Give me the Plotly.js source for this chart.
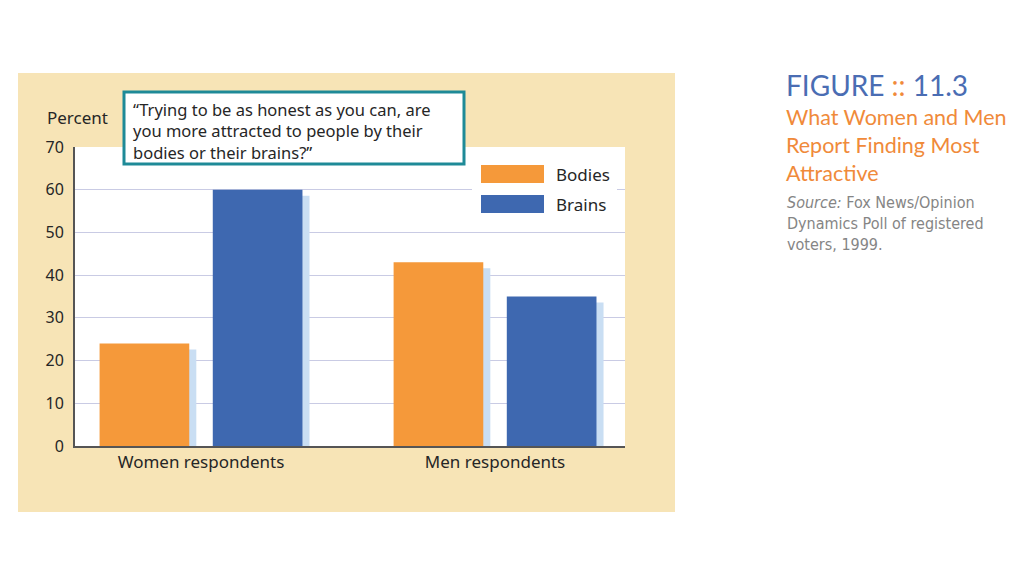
<!DOCTYPE html>
<html><head><meta charset="utf-8">
<script src="https://cdn.plot.ly/plotly-3.0.1.min.js"></script>
<style>html,body{margin:0;padding:0;background:#fff;}#chart{width:1024px;height:576px;}</style>
</head><body><div id="chart"></div>
<script>
// ---- data ----
const categories = ["Women respondents", "Men respondents"];
const bodies = [24, 43];
const brains = [60, 35];
const seriesNames = ["Bodies", "Brains"];
const yTicks = [0, 10, 20, 30, 40, 50, 60, 70];
const questionLines = ["“Trying to be as honest as you can, are", "you more attracted to people by their", "bodies or their brains?”"];
const titleLines = ["What Women and Men", "Report Finding Most", "Attractive"];
const sourceLines = ["<i>Source:</i> Fox News/Opinion", "Dynamics Poll of registered", "voters, 1999."];

// ---- styling ----
const ORANGE = "#f5993a", BLUE = "#3e68b0", SHADOW = "#c9def3", BEIGE = "#f7e4b6";
const FONT = "Noto Sans, Open Sans, sans-serif";
const TXT = "#262626";
const W = 0.305, OFF_B = -0.345, OFF_R = 0.04, SH_DX = 0.024, SH_DY = 1.4;

// pixel -> paper helpers for decorations (plot area 75..625 x 147..446)
const px = x => (x - 75) / 550;
const py = y => (446 - y) / 299;

function shadow(vals, off) {
  return {type: "bar", x: categories, y: vals.map(v => v - SH_DY), width: W, offset: off + SH_DX,
    marker: {color: SHADOW, line: {width: 0}}, showlegend: false, hoverinfo: "skip"};
}
const traces = [
  shadow(bodies, OFF_B), shadow(brains, OFF_R),
  {type: "bar", name: seriesNames[0], x: categories, y: bodies, width: W, offset: OFF_B,
   marker: {color: ORANGE, line: {width: 0}}},
  {type: "bar", name: seriesNames[1], x: categories, y: brains, width: W, offset: OFF_R,
   marker: {color: BLUE, line: {width: 0}}}
];

const shapes = [
  {type: "rect", xref: "paper", yref: "paper", x0: px(18), x1: px(675), y0: py(512), y1: py(73),
   fillcolor: BEIGE, line: {width: 0}, layer: "below"},
  {type: "rect", xref: "paper", yref: "paper", x0: 0, x1: 1, y0: 0, y1: 1,
   fillcolor: "#ffffff", line: {width: 0}, layer: "below"},
  // legend background
  {type: "rect", xref: "paper", yref: "paper", x0: px(472), x1: px(617), y0: py(224), y1: py(156),
   fillcolor: "#ffffff", line: {width: 0}, layer: "above"},
  {type: "rect", xref: "paper", yref: "paper", x0: px(481), x1: px(544), y0: py(183), y1: py(165),
   fillcolor: ORANGE, line: {width: 0}, layer: "above"},
  {type: "rect", xref: "paper", yref: "paper", x0: px(481), x1: px(544), y0: py(213), y1: py(195),
   fillcolor: BLUE, line: {width: 0}, layer: "above"},
  // callout box
  {type: "rect", xref: "paper", yref: "paper", x0: px(124), x1: px(464), y0: py(164), y1: py(92),
   fillcolor: "#ffffff", line: {color: "#1e8a97", width: 3}, layer: "above"}
];

function lbl(x, y, text, font) {
  return {xref: "paper", yref: "paper", x: px(x), y: py(y), xanchor: "left", yanchor: "middle",
    showarrow: false, align: "left", text: text, font: font, borderpad: 0};
}
const annotations = [
  lbl(46, 117, "Percent", {family: FONT, size: 17, color: TXT}),
  lbl(555, 174, seriesNames[0], {family: FONT, size: 17, color: TXT}),
  lbl(555, 204, seriesNames[1], {family: FONT, size: 17, color: TXT}),
  lbl(785, 85, "FIGURE <span style='color:#f08a3a'>::</span> 11.3", {family: "Lato, sans-serif", size: 28, color: "#4a6db3"}),
  lbl(132, 131, questionLines.join("<br>"), {family: FONT, size: 16.5, color: TXT}),
  lbl(785, 145, titleLines.join("<br>"), {family: "Lato, sans-serif", size: 21.5, color: "#f08a3a"}),
  lbl(786, 223, sourceLines.join("<br>"),
    {family: "Liberation Sans Narrow, DejaVu Sans Condensed, sans-serif", size: 16, color: "#858585"})
];

const layout = {
  width: 1024, height: 576,
  margin: {l: 75, r: 399, t: 147, b: 130},
  paper_bgcolor: "#ffffff", plot_bgcolor: "rgba(0,0,0,0)",
  barmode: "overlay", showlegend: false,
  xaxis: {type: "category", range: [-0.4286, 1.442], showgrid: false, zeroline: false,
    showline: true, linecolor: "#555555", linewidth: 2, ticks: "",
    tickfont: {family: FONT, size: 17, color: TXT}, fixedrange: true},
  yaxis: {range: [0, 70], tickvals: yTicks, showgrid: true, gridcolor: "#c9cbe4", gridwidth: 1,
    zeroline: false, showline: true, linecolor: "#555555", linewidth: 2, ticks: "",
    ticklabelstandoff: 6, tickfont: {family: FONT, size: 16, color: TXT}, fixedrange: true},
  shapes: shapes, annotations: annotations,
  font: {family: FONT}
};
Plotly.newPlot("chart", traces, layout, {displayModeBar: false, staticPlot: true});
</script></body></html>
